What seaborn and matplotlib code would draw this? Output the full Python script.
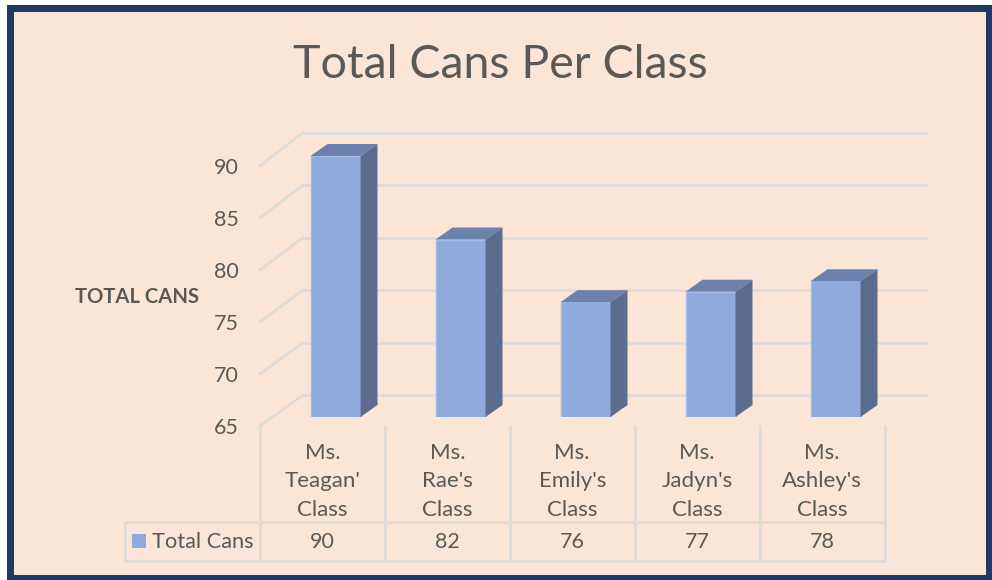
import matplotlib
matplotlib.use("Agg")
import matplotlib.pyplot as plt
import seaborn as sns
import pandas as pd
from matplotlib.patches import Rectangle, Polygon, ConnectionPatch

W, H = 992, 580
classes = ["Ms.\nTeagan'\nClass", "Ms.\nRae's\nClass", "Ms.\nEmily's\nClass",
           "Ms.\nJadyn's\nClass", "Ms.\nAshley's\nClass"]
values = [90, 82, 76, 77, 78]
y_ticks = [65, 70, 75, 80, 85, 90]
series_name = "Total Cans"
axis_title = "TOTAL CANS"
chart_title = "Total Cans Per Class"

NAVY = "#1F3864"
PEACH = "#FBE5D6"
BAR = "#8FAADC"
BAR_TOP = "#6C82AC"
BAR_SIDE = "#5B6C8F"
GRID = "#DEDCDA"
TEXT = "#595959"

sns.set_theme(style="white")
plt.rcParams["font.family"] = ["Lato", "DejaVu Sans"]


def box(left, right, top, bottom):
    return [left / W, 1 - bottom / H, (right - left) / W, (bottom - top) / H]


fig = plt.figure(figsize=(W / 100, H / 100), dpi=100, facecolor="white")
fig.patches.append(Rectangle((7 / W, 0), (W - 7) / W, (H - 5) / H, transform=fig.transFigure,
                             facecolor=NAVY, edgecolor="none", zorder=0))
fig.patches.append(Rectangle((14 / W, 5 / H), 972 / W, 563 / H, transform=fig.transFigure,
                             facecolor=PEACH, edgecolor="none", zorder=0.5))
fig.text(500 / W, 1 - 65 / H, chart_title, ha="center", va="center", fontsize=33.5, color=TEXT)

# three depth planes of the 3-D box
ax_back = fig.add_axes(box(303, 927, 132.5, 395), zorder=2)
ax_front = fig.add_axes(box(260, 884.5, 166, 426), zorder=3)
ax_bars = fig.add_axes(box(273, 898, 156, 417), zorder=4)

df = pd.DataFrame({"cls": classes, "val": values})

for ax in (ax_back, ax_front, ax_bars):
    ax.patch.set_visible(False)
    sns.despine(ax=ax, left=True, bottom=True)
    ax.set_ylim(65, 90)
    ax.set_xlim(-0.5, 4.5)

# back wall
ax_back.set_yticks(y_ticks)
ax_back.set_xticks([])
ax_back.grid(True, axis="y", color=GRID, lw=2)
ax_back.tick_params(labelleft=False, left=False)
for gl in ax_back.get_ygridlines():
    gl.set_clip_on(False)

# front plane: ticks, labels, table
ax_front.set_yticks(y_ticks)
ax_front.set_xticks(range(len(classes)))
ax_front.set_xticklabels(classes, linespacing=1.55)
ax_front.tick_params(axis="y", length=0, pad=15, labelsize=15.5, labelcolor=TEXT)
ax_front.tick_params(axis="x", length=0, pad=12, labelsize=16, labelcolor=TEXT)
ax_front.set_ylabel(axis_title, rotation=0, fontsize=14.6, fontweight="bold", color=TEXT,
                    ha="center", va="center")
ax_front.yaxis.set_label_coords((137 - 260) / 625, (426 - 297) / 260)

for v in y_ticks:
    fig.add_artist(ConnectionPatch((-0.5, v), (-0.5, v), "data", "data", axesA=ax_front, axesB=ax_back,
                                   color=GRID, lw=2, zorder=2.5))

row_top = (426 - 522) / 260
row_bot = (426 - 561) / 260
row_mid = (row_top + row_bot) / 2 - 1 / 260
xt = ax_front.get_xaxis_transform()
for i in range(len(classes) + 1):
    ax_front.plot([i - 0.5] * 2, [0, row_bot], transform=xt, color=GRID, lw=2, clip_on=False)
x_table_left = -0.5 - 135 / 125
for yy in (row_top, row_bot):
    ax_front.plot([x_table_left, 4.5], [yy, yy], transform=xt, color=GRID, lw=2, clip_on=False)
ax_front.plot([x_table_left] * 2, [row_top, row_bot], transform=xt, color=GRID, lw=2, clip_on=False)
for i, v in enumerate(values):
    ax_front.text(i, row_mid, str(v), transform=xt, ha="center", va="center",
                  fontsize=15.5, color=TEXT)
ax_front.text(-0.5 - 108 / 125, row_mid, series_name, transform=xt, ha="left", va="center",
              fontsize=15.7, color=TEXT)
ax_front.add_patch(Rectangle((-0.5 - 128 / 125, (426 - 548) / 260), 14 / 125, 14 / 260, transform=xt,
                             facecolor=BAR, edgecolor="none", clip_on=False))

# bars
sns.barplot(data=df, x="cls", y="val", color=BAR, width=0.4, saturation=1, ax=ax_bars,
            edgecolor="#A4BBE4", linewidth=1)
ax_bars.set_ylim(65, 90)
ax_bars.set_xlim(-0.5, 4.5)
ax_bars.set(xlabel="", ylabel="", xticks=[], yticks=[])
dx = 17 / 125
dy = 12 / (261 / 25)
for p in list(ax_bars.patches):
    x0 = p.get_x()
    x1 = x0 + p.get_width()
    top = p.get_height()
    ax_bars.add_patch(Polygon([(x0, top), (x1, top), (x1 + dx, top + dy), (x0 + dx, top + dy)],
                              facecolor=BAR_TOP, edgecolor="none", clip_on=False))
    ax_bars.add_patch(Polygon([(x1, 65), (x1 + dx, 65 + dy), (x1 + dx, top + dy), (x1, top)],
                              facecolor=BAR_SIDE, edgecolor="none", clip_on=False))

fig.savefig("out.png", dpi=100, facecolor=fig.get_facecolor())
